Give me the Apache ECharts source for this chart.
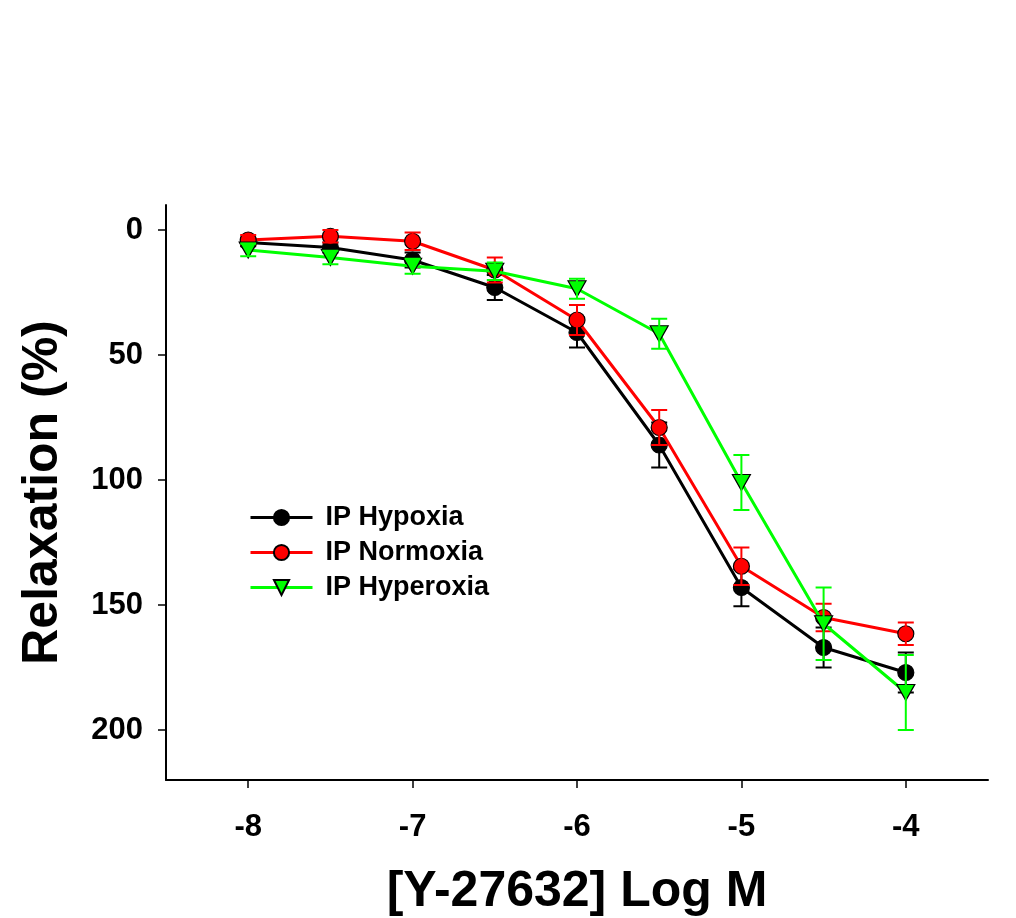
<!DOCTYPE html>
<html>
<head>
<meta charset="utf-8">
<script src="https://cdn.jsdelivr.net/npm/echarts@6/dist/echarts.min.js"></script>
<style>
html,body{margin:0;padding:0;background:#fff;}
#c{width:1016px;height:918px;}
</style>
</head>
<body>
<div id="c"></div>
<script>
var logConc = [-8, -7.5, -7, -6.5, -6, -5.5, -5, -4.5, -4];
var xTicks = [-8, -7, -6, -5, -4];
var yTicks = [0, 50, 100, 150, 200];
var seriesNames = ['IP Hypoxia', 'IP Normoxia', 'IP Hyperoxia'];
var hypoxia = [5, 7, 12, 23, 41, 86, 143, 167, 177];
var hypoxiaErr = [1.5, 2, 3, 5, 6, 9, 7.5, 8, 8];
var normoxia = [4, 2.5, 4.5, 16, 36, 79, 134.5, 155, 161.5];
var normoxiaErr = [2, 2.5, 3.5, 5, 6, 7, 7.5, 5.5, 4.5];
var hyperoxia = [8, 11, 14.5, 16.5, 23.5, 41.5, 101, 157.5, 185];
var hyperoxiaErr = [2.5, 2.7, 3, 3.5, 4, 6, 11, 14.5, 15];

var FONT = '"Liberation Sans", Arial, Helvetica, sans-serif';
var colors = ['#000000', '#ff0000', '#00ff00'];
var means = [hypoxia, normoxia, hyperoxia];
var errs = [hypoxiaErr, normoxiaErr, hyperoxiaErr];
var symbols = ['circle', 'circle', 'triangle'];

function pairs(ys) { return logConc.map(function (x, i) { return [x, ys[i]]; }); }
function triples(ys, es) { return logConc.map(function (x, i) { return [x, ys[i], es[i]]; }); }

function errRender(color) {
  return function (params, api) {
    var x = api.value(0), m = api.value(1), e = api.value(2);
    var top = api.coord([x, m - e]);
    var bot = api.coord([x, m + e]);
    var hw = 8;
    var st = { stroke: color, lineWidth: 2 };
    return {
      type: 'group',
      children: [
        { type: 'line', shape: { x1: top[0], y1: top[1], x2: bot[0], y2: bot[1] }, style: st },
        { type: 'line', shape: { x1: top[0] - hw, y1: top[1], x2: top[0] + hw, y2: top[1] }, style: st },
        { type: 'line', shape: { x1: bot[0] - hw, y1: bot[1], x2: bot[0] + hw, y2: bot[1] }, style: st }
      ]
    };
  };
}

var series = [];
for (var k = 0; k < 3; k++) {
  series.push({
    name: seriesNames[k],
    type: 'line',
    data: pairs(means[k]),
    symbol: symbols[k],
    symbolSize: k === 2 ? [18, 16] : 16,
    symbolRotate: k === 2 ? 180 : 0,
    showSymbol: true,
    lineStyle: { color: colors[k], width: 3 },
    itemStyle: { color: colors[k], borderColor: '#000', borderWidth: 1.2 },
    z: 3 + k * 2,
    animation: false
  });
  series.push({
    name: seriesNames[k] + ' err',
    type: 'custom',
    data: triples(means[k], errs[k]),
    encode: { x: 0, y: 1 },
    renderItem: errRender(colors[k]),
    z: 4 + k * 2,
    silent: true,
    animation: false
  });
}

var chart = echarts.init(document.getElementById('c'), null, { renderer: 'canvas' });
chart.setOption({
  backgroundColor: '#ffffff',
  animation: false,
  grid: { left: 166, right: 28, top: 205, bottom: 138, containLabel: false, outerBoundsMode: 'none' },
  legend: {
    data: seriesNames,
    orient: 'vertical',
    left: 244,
    top: 499,
    itemWidth: 62,
    itemHeight: 19,
    itemGap: 8,
    lineStyle: { width: 3 },
    textStyle: { fontFamily: FONT, fontWeight: 'bold', fontSize: 27, color: '#000', padding: [0, 0, 0, 8] }
  },
  xAxis: {
    type: 'value',
    min: -8.5,
    max: -3.5,
    name: '[Y-27632] Log M',
    nameLocation: 'middle',
    nameGap: 87,
    nameTextStyle: { fontFamily: FONT, fontWeight: 'bold', fontSize: 50, color: '#000' },
    axisLine: { show: true, onZero: false, lineStyle: { color: '#000', width: 2 } },
    axisTick: { show: true, customValues: xTicks, length: 8, lineStyle: { color: '#000', width: 1.5 } },
    axisLabel: { customValues: xTicks, margin: 32, fontFamily: FONT, fontWeight: 'bold', fontSize: 31, color: '#000' },
    splitLine: { show: false }
  },
  yAxis: {
    type: 'value',
    inverse: true,
    min: -10,
    max: 220,
    name: 'Relaxation (%)',
    nameLocation: 'middle',
    nameGap: 98,
    nameTextStyle: { fontFamily: FONT, fontWeight: 'bold', fontSize: 50, color: '#000' },
    axisLine: { show: true, onZero: false, lineStyle: { color: '#000', width: 2 } },
    axisTick: { show: true, customValues: yTicks, length: 8, lineStyle: { color: '#000', width: 1.5 } },
    axisLabel: { customValues: yTicks, margin: 23, fontFamily: FONT, fontWeight: 'bold', fontSize: 31, color: '#000' },
    splitLine: { show: false }
  },
  series: series
});
</script>
</body>
</html>
